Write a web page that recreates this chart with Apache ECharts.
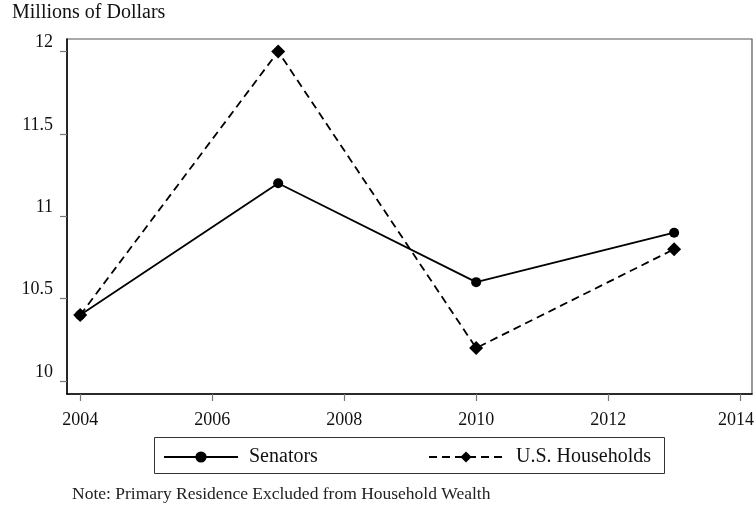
<!DOCTYPE html>
<html><head><meta charset="utf-8">
<script src="https://cdn.jsdelivr.net/npm/echarts@6/dist/echarts.min.js"></script>
<style>html,body{margin:0;padding:0;background:#fff}#c{width:755px;height:506px}</style>
</head><body><div id="c"></div>
<script>
const years = [2004, 2007, 2010, 2013];
const senators = [10.4, 11.2, 10.6, 10.9];
const households = [10.4, 12.0, 10.2, 10.8];
const yTicks = [10, 10.5, 11, 11.5, 12];
const xTicks = [2004, 2006, 2008, 2010, 2012, 2014];
const seriesNames = ['Senators', 'U.S. Households'];
const yTitle = 'Millions of Dollars';
const note = 'Note: Primary Residence Excluded from Household Wealth';

const FONT = 'Liberation Serif';
const lastX = xTicks[xTicks.length - 1];
const chart = echarts.init(document.getElementById('c'), null, {renderer: 'canvas'});
chart.setOption({
  animation: false,
  backgroundColor: '#fff',
  textStyle: {fontFamily: FONT},
  grid: {left: 67, right: 3, top: 39, bottom: 112, show: true, borderColor: '#555', borderWidth: 1.2,
         containLabel: false, outerBoundsMode: 'none'},
  xAxis: {
    type: 'value', min: 2003.8, max: 2014.18,
    axisLine: {show: true, onZero: false, lineStyle: {color: '#000', width: 1.5}},
    axisTick: {show: true, length: 7, customValues: xTicks, lineStyle: {color: '#777', width: 1.2}},
    axisLabel: {show: true, customValues: xTicks, margin: 17, fontFamily: FONT, fontSize: 18, color: '#111',
      formatter: v => v === lastX ? '{e|' + v + '}' : String(v),
      rich: {e: {fontFamily: FONT, fontSize: 18, color: '#111', padding: [0, 8, 0, 0]}}},
    splitLine: {show: false}
  },
  yAxis: {
    type: 'value', min: 9.921, max: 12.076,
    axisLine: {show: true, onZero: false, lineStyle: {color: '#000', width: 1.5}},
    axisTick: {show: true, length: 7, customValues: yTicks, lineStyle: {color: '#777', width: 1.2}},
    axisLabel: {show: true, customValues: yTicks, margin: 14, fontFamily: FONT, fontSize: 18, color: '#111', verticalAlign: 'bottom', formatter: v => String(v)},
    splitLine: {show: false}
  },
  legend: [
    {data: [seriesNames[0]], left: 163, top: 447, padding: 0, itemWidth: 74, itemHeight: 14, itemGap: 10,
     textStyle: {fontFamily: FONT, fontSize: 20, color: '#111', padding: [4, 0, 0, 6]}},
    {data: [seriesNames[1]], left: 428, top: 447, padding: 0, itemWidth: 74, itemHeight: 14, itemGap: 10,
     textStyle: {fontFamily: FONT, fontSize: 20, color: '#111', padding: [4, 0, 0, 8]}}
  ],
  graphic: [
    {type: 'rect', shape: {x: 154.5, y: 437.5, width: 510, height: 36}, style: {fill: 'none', stroke: '#333', lineWidth: 1}},
    {type: 'text', left: 12, top: 3, style: {text: yTitle, font: '20px "Liberation Serif"', fill: '#111'}},
    {type: 'text', left: 72, top: 485, style: {text: note, font: '17.5px "Liberation Serif"', fill: '#222'}}
  ],
  series: [
    {name: seriesNames[0], type: 'line', data: years.map((y, i) => [y, senators[i]]),
     symbol: 'circle', symbolSize: 10, itemStyle: {color: '#000'},
     lineStyle: {color: '#000', width: 1.8, type: 'solid'}, z: 3},
    {name: seriesNames[1], type: 'line', data: years.map((y, i) => [y, households[i]]),
     symbol: 'diamond', symbolSize: [14, 14], itemStyle: {color: '#000'},
     lineStyle: {color: '#000', width: 1.8, type: [8, 5]}, z: 2}
  ]
});
</script></body></html>
